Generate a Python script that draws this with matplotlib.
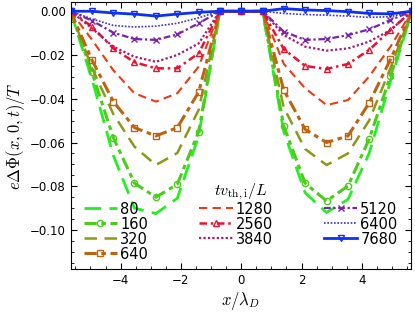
import matplotlib
matplotlib.use("Agg")
import matplotlib.pyplot as plt
from matplotlib.ticker import MultipleLocator, FuncFormatter

plt.rcParams['mathtext.fontset'] = 'cm'
plt.rcParams['font.family'] = ['DejaVu Sans']

x = [-5.66, -4.95, -4.24, -3.54, -2.83, -2.12, -1.41, -0.71, 0.0,
     0.71, 1.41, 2.12, 2.83, 3.54, 4.24, 4.95, 5.66]

labels = ['80', '160', '320', '640', '1280', '2560', '3840', '5120', '6400', '7680']

phi_80 = [0, -0.031, -0.066, -0.090, -0.0925, -0.0855, -0.057, 0, 0, 0,
          -0.055, -0.083, -0.092, -0.086, -0.065, -0.032, 0]
phi_160 = [0, -0.028, -0.0578, -0.0786, -0.085, -0.0791, -0.055, 0, 0, 0,
           -0.0524, -0.0786, -0.0867, -0.0799, -0.0585, -0.0296, 0]
phi_320 = [0, -0.026, -0.047, -0.0619, -0.0703, -0.0648, -0.045, 0, 0, 0,
           -0.044, -0.063, -0.0703, -0.065, -0.050, -0.026, 0]
phi_640 = [0, -0.0223, -0.0413, -0.0532, -0.057, -0.0532, -0.0369, 0, 0, 0,
           -0.036, -0.054, -0.060, -0.057, -0.042, -0.022, 0]
phi_1280 = [0, -0.013, -0.027, -0.0375, -0.0413, -0.0375, -0.0253, 0, 0, 0,
            -0.024, -0.0352, -0.0429, -0.0406, -0.0299, -0.0162, 0]
phi_2560 = [0, -0.007, -0.017, -0.0233, -0.0261, -0.0261, -0.0192, 0, 0, 0,
            -0.0173, -0.025, -0.0264, -0.0241, -0.0177, -0.0086, 0]
phi_3840 = [0, -0.0078, -0.0162, -0.0208, -0.0231, -0.020, -0.0147, 0, 0, 0,
            -0.0109, -0.0162, -0.018, -0.017, -0.0139, -0.0086, 0]
phi_5120 = [0, -0.0043, -0.0098, -0.0127, -0.0131, -0.0106, -0.0055, 0, 0, 0,
            -0.0093, -0.0131, -0.0127, -0.0109, -0.0083, -0.004, 0]
phi_6400 = [0, -0.0035, -0.0065, -0.0072, -0.0068, -0.0055, -0.003, 0, 0, 0,
            -0.001, -0.0015, -0.0018, -0.0022, -0.0028, -0.0025, 0]
phi_7680 = [0, 0, -0.0008, -0.0013, -0.0022, -0.0013, -0.0005, 0, 0, 0,
            0.0012, 0.0006, 0.0003, -0.0002, -0.001, -0.0012, 0]

series = [phi_80, phi_160, phi_320, phi_640, phi_1280,
          phi_2560, phi_3840, phi_5120, phi_6400, phi_7680]

styles = [
    dict(color='#22f022', lw=2.0, ls=(0, (6, 3)), marker=None),
    dict(color='#4ccc1a', lw=2.2, ls=(0, (4, 1.5, 1.5, 1.5)), marker='o'),
    dict(color='#8a9a18', lw=1.8, ls=(0, (5, 3)), marker=None),
    dict(color='#bb6411', lw=2.2, ls=(0, (4, 1.5, 1.5, 1.5)), marker='s'),
    dict(color='#f03a14', lw=1.5, ls=(0, (4, 2.5)), marker=None),
    dict(color='#ee1030', lw=1.8, ls=(0, (3, 1.5, 1, 1.5)), marker='^'),
    dict(color='#aa1a6e', lw=1.6, ls=(0, (1, 1)), marker=None),
    dict(color='#7a22aa', lw=1.6, ls=(0, (3, 1.2, 1, 1.2)), marker='x'),
    dict(color='#4030d0', lw=1.2, ls=(0, (1, 1)), marker=None),
    dict(color='#1030f0', lw=2.0, ls='-', marker='v'),
]

fig = plt.figure(figsize=(4.15, 3.12), dpi=100)
ax = fig.add_axes([0.170, 0.138, 0.8196, 0.854])

handles = []
for y, lab, st in zip(series, labels, styles):
    h, = ax.plot(x, y, color=st['color'], lw=st['lw'], linestyle=st['ls'],
                 marker=st['marker'], markersize=4.5, markerfacecolor='none',
                 markeredgewidth=1.0, label=lab)
    handles.append(h)


def fmt(v, pos):
    s = f"{v:.2f}"
    if s == "-0.00":
        s = "0.00"
    return s.replace("-", "\u2212")


ax.set_xlim(-5.66, 5.62)
ax.set_ylim(-0.1178, 0.004)
ax.xaxis.set_major_locator(MultipleLocator(2))
ax.xaxis.set_minor_locator(MultipleLocator(0.5))
ax.yaxis.set_major_locator(MultipleLocator(0.02))
ax.yaxis.set_minor_locator(MultipleLocator(0.005))
ax.yaxis.set_major_formatter(FuncFormatter(fmt))
ax.tick_params(which='both', direction='in', top=True, right=True, labelsize=8.5)
ax.tick_params(which='major', length=4, width=0.8)
ax.tick_params(which='minor', length=2.2, width=0.6)

ax.set_xlabel(r'$x/\lambda_D$', fontsize=12, labelpad=2)
ax.set_ylabel(r'$e\Delta\Phi(x,0,t)/T$', fontsize=12, labelpad=2)

leg = ax.legend(handles=handles, ncol=3, loc='lower center',
                bbox_to_anchor=(0.5, -0.005), frameon=False, fontsize=10.5,
                title=r'$tv_{\rm th,i}/L$', title_fontsize=11.5,
                handlelength=2.3, handletextpad=0.2, columnspacing=3.5,
                labelspacing=0.0, borderpad=0.1)

fig.savefig('out.png', dpi=100)
